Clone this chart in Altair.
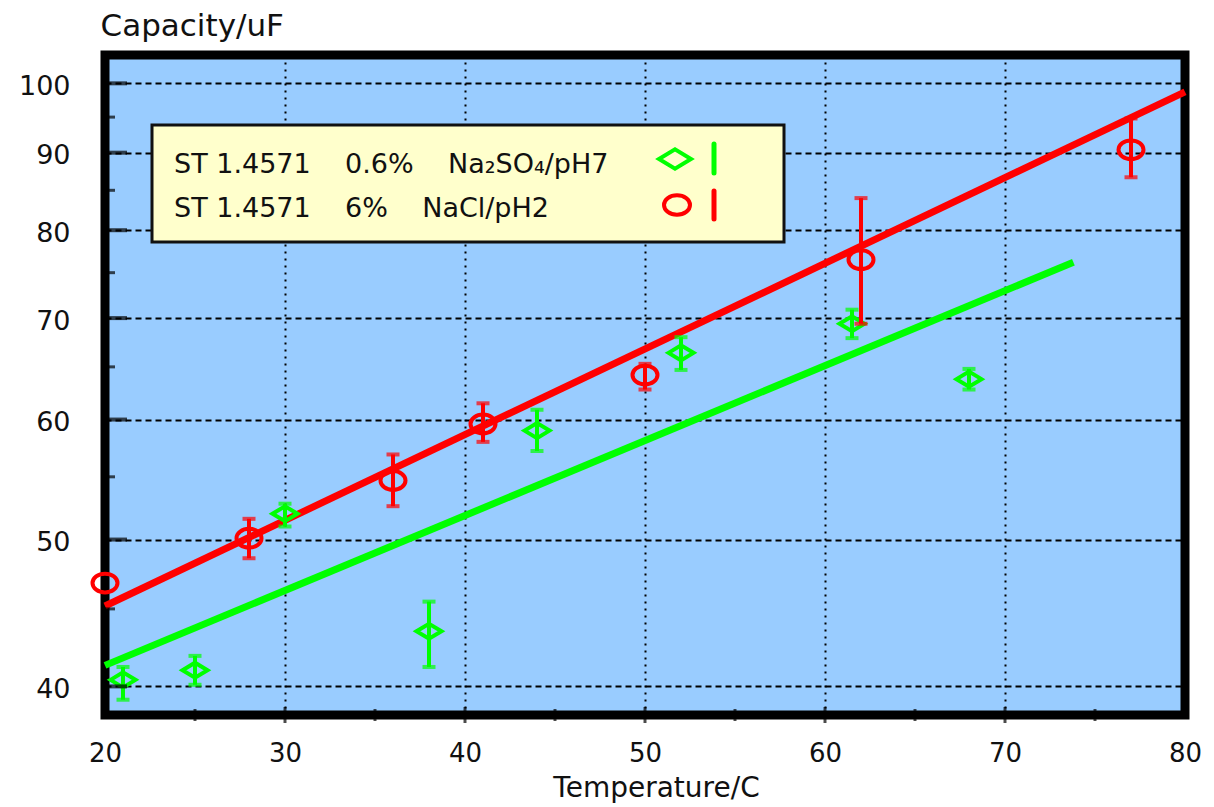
import altair as alt
import pandas as pd

# ---- data ----
series_names = ["ST 1.4571\u00a0\u00a0\u00a0 0.6%\u00a0\u00a0\u00a0 Na\u2082SO\u2084/pH7",
                "ST 1.4571\u00a0\u00a0\u00a0 6%\u00a0\u00a0\u00a0 NaCl/pH2"]

green_t = [21, 25, 30, 38, 44, 52, 61.5, 68]
green_c = [40.4, 41.0, 52.0, 43.5, 59.0, 66.4, 69.4, 63.8]
green_lo = [39.2, 40.1, 51.0, 41.2, 57.2, 64.7, 67.9, 62.8]
green_hi = [41.2, 41.9, 52.8, 45.5, 60.9, 68.0, 70.9, 64.8]

red_t = [20, 28, 36, 41, 50, 62, 77]
red_c = [46.8, 50.1, 54.7, 59.6, 64.2, 76.5, 90.4]
red_lo = [None, 48.6, 52.6, 58.0, 62.8, 69.4, 86.7]
red_hi = [None, 51.6, 56.9, 61.5, 65.3, 84.0, 94.8]

green_fit_t = [20, 73.8]
green_fit_c = [41.3, 76.2]
red_fit_t = [20, 80]
red_fit_c = [45.2, 98.7]

x_ticks = [20, 30, 40, 50, 60, 70, 80]
x_minor = [25, 35, 45, 55, 65, 75]
y_ticks = [40, 50, 60, 70, 80, 90, 100]
y_minor = [45, 55, 65, 75, 85, 95]

GREEN = "#00FF00"
RED = "#FF0000"
FONT = "DejaVu Sans"
W, H = 1080, 660

diamond = "M-1,0L0,-0.6L1,0L0,0.6Z"
ellipse = "M-1,0A1,0.75 0 1,0 1,0A1,0.75 0 1,0 -1,0Z"

xscale = alt.Scale(domain=[20, 80], nice=False, zero=False)
yscale = alt.Scale(type="log", domain=[38.3, 104.4], nice=False)

xaxis = alt.Axis(values=x_ticks, format="d", ticks=False, domain=False, labelFlush=False,
                 grid=True, gridColor="black", gridWidth=2, gridDash=[2, 5],
                 labelFontSize=26, labelPadding=25, labelFont=FONT, labelColor="#111",
                 title="Temperature/C", titleFontSize=28, titleFont=FONT,
                 titleFontWeight="normal", titleColor="#111",
                 titleX=551, titleY=81, titleAlign="center", titleBaseline="alphabetic")
yaxis = alt.Axis(values=y_ticks, format="d", ticks=False, domain=False, labelFlush=False,
                 grid=True, gridColor="black", gridWidth=2, gridDash=[6, 4],
                 labelFontSize=27, labelPadding=35, labelFont=FONT, labelColor="#111",
                 labelOffset=3,
                 title="Capacity/uF", titleFontSize=31, titleFont=FONT,
                 titleFontWeight="normal", titleColor="#111", titleAngle=0,
                 titleX=-5, titleY=-20, titleAlign="left", titleBaseline="alphabetic")


def X(f):
    return alt.X(f, type="quantitative", scale=xscale, axis=xaxis)


def Y(f):
    return alt.Y(f, type="quantitative", scale=yscale, axis=yaxis)


green = pd.DataFrame({"t": green_t, "c": green_c, "lo": green_lo, "hi": green_hi})
red = pd.DataFrame({"t": red_t, "c": red_c, "lo": red_lo, "hi": red_hi})
gfit = pd.DataFrame({"t": green_fit_t, "c": green_fit_c})
rfit = pd.DataFrame({"t": red_fit_t, "c": red_fit_c})

layers = []
# fit lines
layers.append(alt.Chart(gfit).mark_line(color=GREEN, strokeWidth=7, clip=False).encode(x=X("t"), y=Y("c")))
layers.append(alt.Chart(rfit).mark_line(color=RED, strokeWidth=7, clip=False).encode(x=X("t"), y=Y("c")))

for df, col, shape in [(green, GREEN, diamond), (red, RED, ellipse)]:
    base = alt.Chart(df).transform_filter("isValid(datum.lo)")
    layers.append(base.mark_rule(color=col, strokeWidth=4).encode(x=X("t"), y=Y("lo"), y2="hi"))
    layers.append(base.mark_tick(color=col, orient="horizontal", size=13, thickness=4).encode(x=X("t"), y=Y("lo")))
    layers.append(base.mark_tick(color=col, orient="horizontal", size=13, thickness=4).encode(x=X("t"), y=Y("hi")))
    layers.append(alt.Chart(df).mark_point(shape=shape, size=625, filled=False, color=col,
                                           strokeWidth=4, opacity=1, clip=False)
                  .encode(x=X("t"), y=Y("c")))

# inward axis ticks
yt = pd.DataFrame({"v": y_ticks})
ym = pd.DataFrame({"v": y_minor})
xt = pd.DataFrame({"v": x_ticks[1:-1]})
xm = pd.DataFrame({"v": x_minor})
layers.append(alt.Chart(yt).mark_tick(color="black", orient="horizontal", size=22, thickness=4)
              .encode(y=Y("v"), x=alt.value(11)))
layers.append(alt.Chart(ym).mark_tick(color="black", orient="horizontal", size=10, thickness=3)
              .encode(y=Y("v"), x=alt.value(5)))
layers.append(alt.Chart(xt).mark_tick(color="black", orient="vertical", size=16, thickness=3)
              .encode(x=X("v"), y=alt.value(H)))
layers.append(alt.Chart(xm).mark_tick(color="black", orient="vertical", size=12, thickness=3)
              .encode(x=X("v"), y=alt.value(H)))

# manual legend
one = pd.DataFrame({"k": [0]})
leg1 = pd.DataFrame({"label": [series_names[0]]})
leg2 = pd.DataFrame({"label": [series_names[1]]})
layers.append(alt.Chart(one).mark_rect(fill="#FFFFCC", stroke="#111", strokeWidth=3)
              .encode(x=alt.value(47), x2=alt.value(679), y=alt.value(70), y2=alt.value(187)))
layers.append(alt.Chart(leg1).mark_text(align="left", baseline="alphabetic", font=FONT,
                                        fontSize=27, color="#111")
              .encode(text="label:N", x=alt.value(69), y=alt.value(118)))
layers.append(alt.Chart(leg2).mark_text(align="left", baseline="alphabetic", font=FONT,
                                        fontSize=27, color="#111")
              .encode(text="label:N", x=alt.value(69), y=alt.value(162)))
layers.append(alt.Chart(one).mark_point(shape=diamond, size=1024, filled=False, color=GREEN,
                                        strokeWidth=4, opacity=1)
              .encode(x=alt.value(570), y=alt.value(104)))
layers.append(alt.Chart(one).mark_rule(color=GREEN, strokeWidth=5, strokeCap="round")
              .encode(x=alt.value(609), y=alt.value(89), y2=alt.value(118)))
layers.append(alt.Chart(one).mark_point(shape=ellipse, size=676, filled=False, color=RED,
                                        strokeWidth=4, opacity=1)
              .encode(x=alt.value(572), y=alt.value(150)))
layers.append(alt.Chart(one).mark_rule(color=RED, strokeWidth=5, strokeCap="round")
              .encode(x=alt.value(609), y=alt.value(136), y2=alt.value(164)))

chart = alt.layer(*layers).properties(
    width=W, height=H,
    autosize=alt.AutoSizeParams(type="none"),
    padding={"left": 97, "top": 47, "right": 18, "bottom": 88},
    background="white",
).configure_view(fill="#99CCFF", stroke="black", strokeWidth=9)

chart.save("out.html", embed_options={"renderer": "svg", "actions": False})
